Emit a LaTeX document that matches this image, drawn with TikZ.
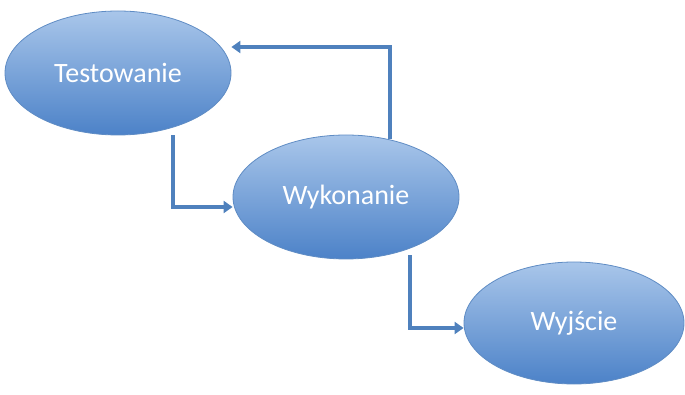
\documentclass[tikz,border=0pt]{standalone}
\usepackage{fontspec}
\setmainfont{Carlito}
\usetikzlibrary{arrows.meta,shapes.geometric,shadings}
\definecolor{linkblue}{HTML}{4F81BD}
\definecolor{elltop}{HTML}{A9C6EA}
\definecolor{ellbot}{HTML}{4C82C8}
\definecolor{ellborder}{HTML}{5F8CC4}
\tikzset{
  stage/.style={ellipse, draw=ellborder, line width=0.8pt, top color=elltop, bottom color=ellbot,
    minimum width=226pt, minimum height=124pt, inner sep=0pt,
    text=white, font=\fontsize{28}{32}\selectfont},
  link/.style={draw=linkblue, line width=4pt, -{Triangle[length=9pt,width=12pt]}}
}
\begin{document}
\begin{tikzpicture}[x=1pt,y=-1pt]
\useasboundingbox (0,0) rectangle (685,395);
\node[stage] (test) at (118,73) {Testowanie};
\node[stage] (wyk) at (346,197) {Wykonanie};
\node[stage, minimum width=220pt, minimum height=122pt] (wyj) at (574,323) {Wyjście};
\coordinate (c1) at (173,207);
\coordinate (c2) at (390,47);
\coordinate (c3) at (410,328);
\draw[link] (test.south -| c1) -- (c1) -- (c1 -| wyk.west);
\draw[link] (c2 |- wyk.north) ++(0,4) -- (c2) -- (c2 -| test.east);
\draw[link] (c3 |- wyk.south) ++(0,-4) -- (c3) -- (c3 -| wyj.west);
\end{tikzpicture}
\end{document}
